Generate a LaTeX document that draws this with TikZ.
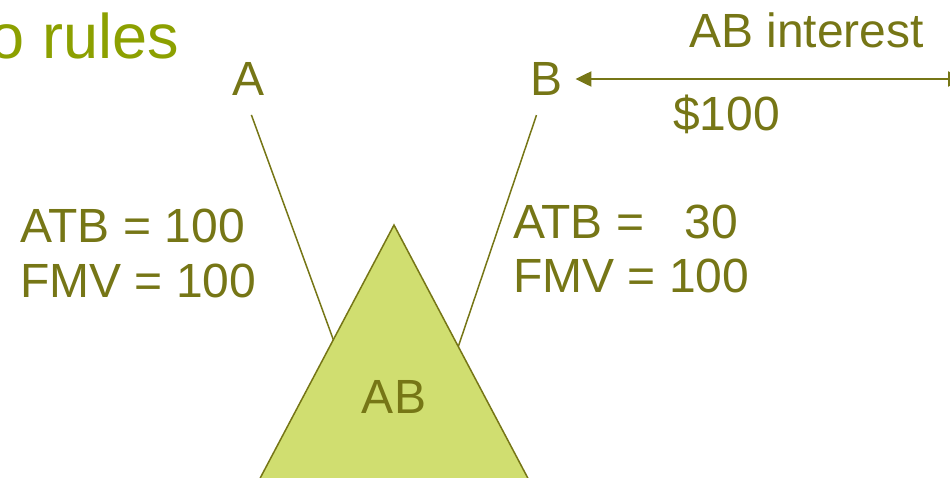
\documentclass[tikz,border=0pt]{standalone}
\usepackage{fontspec}
\setmainfont{Liberation Sans}
\usepackage{xcolor}
\usetikzlibrary{arrows.meta,positioning,calc}

\definecolor{olivetext}{RGB}{118,118,22}
\definecolor{titlegreen}{RGB}{140,160,0}
\definecolor{trifill}{RGB}{208,222,112}

\begin{document}
\begin{tikzpicture}[x=1pt, y=-1pt,
    label/.style={inner sep=0pt, anchor=base west, text=olivetext, font=\fontsize{48}{58}\selectfont},
    title/.style={inner sep=0pt, anchor=base east, text=titlegreen, font=\fontsize{63}{70}\selectfont},
    link/.style={draw=olivetext, line width=1.5pt, shorten <=21pt},
    arrow/.style={draw=olivetext, line width=2.2pt, {Triangle[length=16pt,width=15pt]}-{Triangle[length=16pt,width=15pt]}},
    tri/.style={draw=olivetext, line width=1.5pt, fill=trifill, line join=miter}
]
\useasboundingbox (0,0) rectangle (950,477);
\clip (0,0) rectangle (950,477);

\node[title] (title) at (179,58) {o rules};

\node[label] (A) at (232,95) {A};
\node[label] (B) at (530,95) {B};
\node[label] (interest) at (689,47) {AB interest};
\node[label] (price) at (673,130) {\$100};

\node[label] (atbA) at (20,242) {ATB = 100};
\node[label] (fmvA) at (20,297) {FMV = 100};
\node[label] (atbB) at (513,238) {ATB = \ \ 30};
\node[label] (fmvB) at (513,292) {FMV = 100};

% ownership lines run under the triangle
\coordinate (ta) at (348,380);
\coordinate (tb) at (447,380);
\draw[link] ([xshift=-4pt]A.south) -- (ta);
\draw[link] ([xshift=-3pt]B.south) -- (tb);

\coordinate (edge) at (964,79);
\draw[arrow, shorten <=13pt] (B.east |- edge) -- (edge);

% partnership
\draw[tri] (394,225) -- (238,520) -- (550,520) -- cycle;
\node[label, anchor=base] (AB) at (394,413) {AB};
\end{tikzpicture}
\end{document}
